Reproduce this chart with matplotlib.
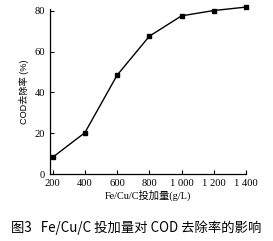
import matplotlib
matplotlib.use("Agg")
import matplotlib.pyplot as plt

dosage = [200, 400, 600, 800, 1000, 1200, 1400]
cod_removal = [8.2, 20.3, 48.5, 67.6, 77.6, 80.2, 81.9]
xtick_vals = [200, 400, 600, 800, 1000, 1200, 1400]
xtick_labels = ["200", "400", "600", "800", "1 000", "1 200", "1 400"]
ytick_vals = [0, 20, 40, 60, 80]

fam = ["Liberation Serif", "Noto Sans CJK SC"]

fig = plt.figure(figsize=(2.73, 2.41), dpi=100)
ax = fig.add_axes([0.183, 0.278, 0.718, 0.685])
ax.plot(dosage, cod_removal, color="black", lw=1.0, marker="s", ms=3.5,
        clip_on=False, zorder=3)
ax.set_xlim(183, 1400)
ax.set_ylim(0, 81)
ax.spines["top"].set_visible(False)
ax.spines["right"].set_visible(False)
for s in ("left", "bottom"):
    ax.spines[s].set_linewidth(0.9)
ax.set_xticks(xtick_vals)
ax.set_xticklabels(xtick_labels)
ax.set_yticks(ytick_vals)
ax.tick_params(direction="in", length=3, width=0.8, labelsize=7.6)
ax.tick_params(axis="x", pad=3.5)
ax.tick_params(axis="y", pad=3.5)
for lab in ax.get_xticklabels() + ax.get_yticklabels():
    lab.set_family(fam)
ax.set_xlabel("Fe/Cu/C投加量(g/L)", family=fam, fontsize=7.4, labelpad=1.5)
ax.set_ylabel("COD去除率 (%)", family=["Liberation Sans", "Noto Sans CJK SC"],
              fontsize=6.6, labelpad=4)
fig.text(0.5, 0.055, "图3   Fe/Cu/C 投加量对 COD 去除率的影响",
         ha="center", va="center", fontsize=9.6, fontweight="medium",
         family=["Noto Sans CJK SC"])
fig.savefig("out.png", dpi=100)
